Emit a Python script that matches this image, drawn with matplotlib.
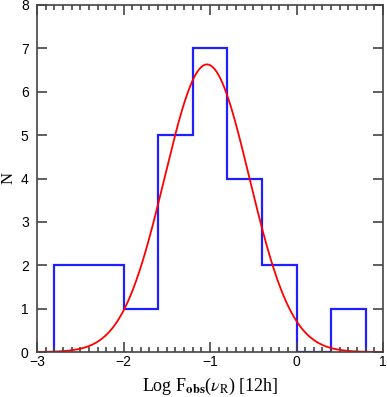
import numpy as np
import matplotlib
matplotlib.use("Agg")
import matplotlib.pyplot as plt
from matplotlib.ticker import MultipleLocator

plt.rcParams['mathtext.fontset'] = 'stix'

# histogram of log flux (bin edges and counts)
bin_edges = [-2.8, -2.4, -2.0, -1.6, -1.2, -0.8, -0.4, 0.0, 0.4, 0.8]
counts = [2, 2, 1, 5, 7, 4, 2, 0, 1]

# gaussian fit
g_amp = 6.63
g_mu = -1.035
g_sigma = 0.49

fig = plt.figure(figsize=(3.87, 3.97), dpi=100)
ax = fig.add_axes([37 / 387, 45 / 397, 346 / 387, 347 / 397])

ax.stairs(counts, bin_edges, color="#2020ff", lw=1.6)

xg = np.linspace(-3, 1, 400)
ax.plot(xg, g_amp * np.exp(-(xg - g_mu) ** 2 / (2 * g_sigma ** 2)), color="red", lw=1.3)

ax.set_xlim(-3, 1)
ax.set_ylim(0, 8)
ax.xaxis.set_major_locator(MultipleLocator(1))
ax.xaxis.set_minor_locator(MultipleLocator(0.1))
ax.yaxis.set_major_locator(MultipleLocator(1))

ax.tick_params(which="both", direction="in", top=True, right=True, color="#444444", width=1.2)
ax.tick_params(which="major", length=7.5, labelsize=10)
ax.tick_params(which="minor", length=3.8)
ax.tick_params(axis="x", pad=2)
ax.tick_params(axis="y", pad=6)
for lab in ax.get_xticklabels() + ax.get_yticklabels():
    lab.set_family("Liberation Sans")
for s in ax.spines.values():
    s.set_color("#444444")
    s.set_linewidth(1.2)

ax.set_xlabel(r"Log F$_{\mathbf{obs}}$($\nu_{\rm R}$) [12h]", family="Liberation Serif", fontsize=13, labelpad=5)
ax.set_ylabel("N", family="Liberation Serif", fontsize=12, labelpad=3)

fig.savefig("out.png", dpi=100)
